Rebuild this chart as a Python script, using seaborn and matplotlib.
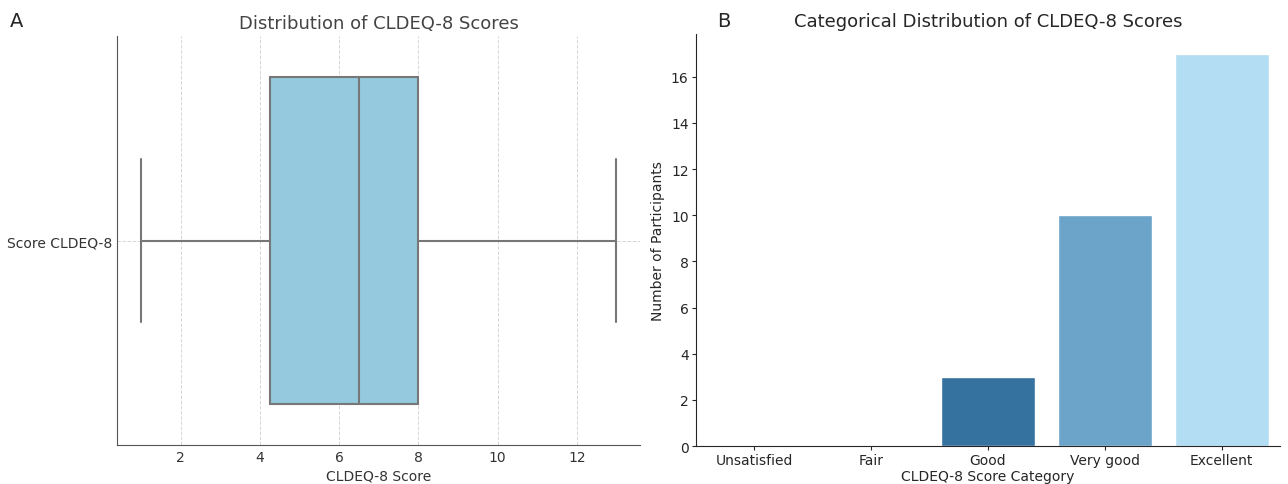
import pandas as pd
import seaborn as sns
import matplotlib.pyplot as plt

# individual CLDEQ-8 scores (panel A)
scores = [1, 2, 2, 3, 3, 3, 4, 4, 5, 5, 5, 6, 6, 6, 6,
          7, 7, 7, 7, 8, 8, 8, 8, 9, 9, 10, 10, 11, 12, 13]

# category counts (panel B)
categories = ["Unsatisfied", "Fair", "Good", "Very good", "Excellent"]
counts = [0, 0, 3, 10, 17]
bar_colors = ["#1f4e79", "#2a5f8a", "#3572A0", "#6BA3C9", "#B3DDF2"]

sns.set_style("ticks")
plt.rcParams['font.family'] = ['DejaVu Sans']

fig = plt.figure(figsize=(12.88, 4.85), dpi=100)
ax_a = fig.add_axes([0.091, 0.080, 0.406, 0.844])
ax_b = fig.add_axes([0.540, 0.078, 0.454, 0.850])

# panel A: boxplot
df_a = pd.DataFrame({"CLDEQ-8 Score": scores, "label": "Score CLDEQ-8"})
sns.boxplot(data=df_a, x="CLDEQ-8 Score", y="label", color="skyblue",
            linecolor="#777777", linewidth=1.5, ax=ax_a)
ax_a.set_axisbelow(True)
ax_a.grid(True, linestyle="--", color="#cccccc", linewidth=0.7, alpha=0.8)
ax_a.set_ylabel("")
ax_a.set_xlabel("CLDEQ-8 Score", fontsize=10, color="#333333", labelpad=3)
ax_a.set_title("Distribution of CLDEQ-8 Scores", color="#444444", fontsize=13)
ax_a.tick_params(length=0, labelsize=10, labelcolor="#333333")
for s in ["top", "right"]:
    ax_a.spines[s].set_visible(False)
for s in ["left", "bottom"]:
    ax_a.spines[s].set_color("#555555")

# panel B: bar chart
df_b = pd.DataFrame({"category": categories, "count": counts})
sns.barplot(data=df_b, x="category", y="count", hue="category",
            palette=bar_colors, saturation=1, legend=False, ax=ax_b)
ax_b.set_xlabel("CLDEQ-8 Score Category", fontsize=10, labelpad=1)
ax_b.set_ylabel("Number of Participants", fontsize=10)
ax_b.set_title("Categorical Distribution of CLDEQ-8 Scores", fontsize=13)
ax_b.tick_params(labelsize=10, length=3, pad=2)
ax_b.set_yticks(range(0, 17, 2))
ax_b.set_ylim(0, 17.85)
for s in ["top", "right"]:
    ax_b.spines[s].set_visible(False)

fig.text(0.008, 0.955, "A", fontsize=14, va="center")
fig.text(0.557, 0.955, "B", fontsize=14, va="center")

fig.savefig("out.png", dpi=100)
